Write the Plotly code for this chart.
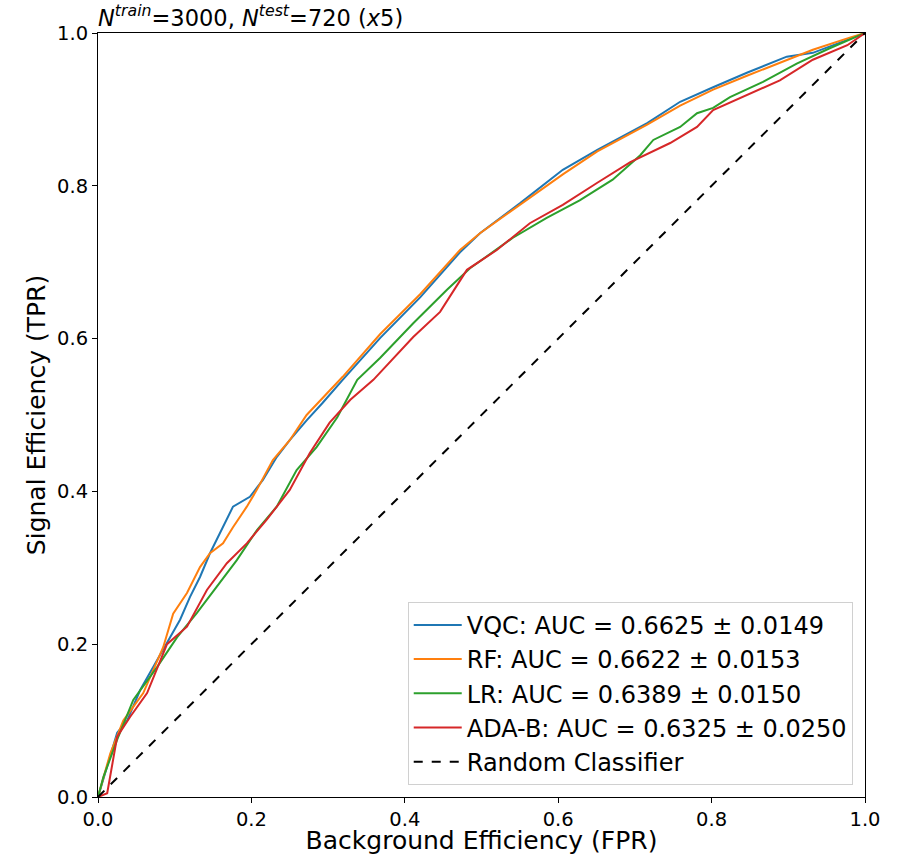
import plotly.graph_objects as go

# ROC curves (FPR, TPR)
vqc_fpr = [0.0, 0.016, 0.025, 0.038, 0.055, 0.077, 0.094, 0.107, 0.12, 0.133, 0.146, 0.159, 0.176, 0.198, 0.215,
           0.233, 0.25, 0.272, 0.293, 0.319, 0.368, 0.42, 0.472, 0.498, 0.55, 0.606, 0.651, 0.716, 0.759, 0.802,
           0.846, 0.898, 0.932, 0.977, 1.0]
vqc_tpr = [0.0, 0.052, 0.084, 0.1, 0.14, 0.179, 0.209, 0.232, 0.262, 0.288, 0.319, 0.345, 0.38, 0.393, 0.415,
           0.445, 0.467, 0.493, 0.516, 0.546, 0.601, 0.654, 0.713, 0.738, 0.777, 0.821, 0.847, 0.882, 0.91, 0.929,
           0.948, 0.969, 0.974, 0.991, 1.0]

rf_fpr = [0.0, 0.016, 0.033, 0.059, 0.085, 0.098, 0.116, 0.133, 0.146, 0.163, 0.176, 0.194, 0.207, 0.228, 0.25,
          0.272, 0.319, 0.368, 0.42, 0.472, 0.498, 0.55, 0.606, 0.651, 0.716, 0.759, 0.802, 0.846, 0.898, 0.932,
          0.977, 1.0]
rf_tpr = [0.0, 0.057, 0.1, 0.136, 0.196, 0.24, 0.267, 0.301, 0.319, 0.332, 0.353, 0.38, 0.402, 0.441, 0.467,
          0.5, 0.55, 0.606, 0.658, 0.716, 0.738, 0.775, 0.815, 0.845, 0.88, 0.905, 0.926, 0.944, 0.964, 0.978,
          0.993, 1.0]

lr_fpr = [0.0, 0.007, 0.025, 0.046, 0.077, 0.103, 0.129, 0.155, 0.181, 0.207, 0.233, 0.259, 0.285, 0.312, 0.338,
          0.368, 0.411, 0.455, 0.485, 0.541, 0.585, 0.628, 0.671, 0.707, 0.724, 0.759, 0.781, 0.802, 0.824, 0.867,
          0.911, 0.954, 1.0]
lr_tpr = [0.0, 0.026, 0.075, 0.127, 0.17, 0.209, 0.241, 0.275, 0.31, 0.349, 0.38, 0.428, 0.458, 0.497, 0.546,
          0.575, 0.62, 0.664, 0.692, 0.732, 0.758, 0.781, 0.808, 0.84, 0.86, 0.877, 0.895, 0.902, 0.916, 0.936,
          0.96, 0.98, 1.0]

ada_fpr = [0.0, 0.012, 0.025, 0.042, 0.064, 0.09, 0.116, 0.142, 0.168, 0.194, 0.22, 0.25, 0.276, 0.302, 0.329,
           0.359, 0.411, 0.446, 0.481, 0.52, 0.563, 0.606, 0.651, 0.694, 0.746, 0.781, 0.802, 0.846, 0.889, 0.932,
           0.977, 1.0]
ada_tpr = [0.0, 0.005, 0.079, 0.105, 0.136, 0.2, 0.223, 0.271, 0.306, 0.332, 0.363, 0.402, 0.45, 0.49, 0.52,
           0.546, 0.602, 0.635, 0.69, 0.716, 0.751, 0.775, 0.804, 0.831, 0.856, 0.877, 0.899, 0.919, 0.938, 0.965,
           0.984, 1.0]

names = ["VQC: AUC = 0.6625 ± 0.0149", "RF: AUC = 0.6622 ± 0.0153",
         "LR: AUC = 0.6389 ± 0.0150", "ADA-B: AUC = 0.6325 ± 0.0250"]
colors = ["#1f77b4", "#ff7f0e", "#2ca02c", "#d62728"]
ticks = [0.0, 0.2, 0.4, 0.6, 0.8, 1.0]

fig = go.Figure()
curves = [(vqc_fpr, vqc_tpr), (rf_fpr, rf_tpr), (lr_fpr, lr_tpr), (ada_fpr, ada_tpr)]
for (x, y), name, c in zip(curves, names, colors):
    fig.add_trace(go.Scatter(x=x, y=y, mode="lines", name=name, line=dict(color=c, width=2)))
fig.add_trace(go.Scatter(x=[0, 1], y=[0, 1], mode="lines", name="Random Classifier",
                         line=dict(color="black", width=2, dash="dash")))

axis = dict(range=[0, 1], tickvals=ticks, tickformat=".1f", ticks="outside", ticklen=5, tickwidth=1,
            tickcolor="black", showline=True, linecolor="black", linewidth=1, mirror=True,
            showgrid=False, zeroline=False, tickfont=dict(size=19.5, color="black"), automargin=False)

fig.update_xaxes(**axis, title=dict(text="Background Efficiency (FPR)", font=dict(size=25, color="black"), standoff=12))
fig.update_yaxes(**axis, title=dict(text="Signal Efficiency (TPR)", font=dict(size=25, color="black"), standoff=4))

fig.update_layout(
    width=905, height=855,
    margin=dict(l=98, r=40, t=33, b=58),
    plot_bgcolor="white", paper_bgcolor="white",
    font=dict(family="DejaVu Sans", color="black"),
    title=dict(text="<i>N</i><sup><i>train</i></sup>=3000, <i>N</i><sup><i>test</i></sup>=720 (<i>x</i>5)",
               x=98 / 905, xanchor="left", yref="container", y=1 - 10 / 855, yanchor="top",
               font=dict(size=22.5, color="black")),
    legend=dict(x=0.984, y=0.016, xanchor="right", yanchor="bottom", bgcolor="rgba(255,255,255,0.8)",
                bordercolor="#d0d0d0", borderwidth=1, font=dict(size=24, color="black"),
                tracegroupgap=0, itemwidth=48),
    showlegend=True,
)

fig.write_html("out.html", config={"displayModeBar": False},
               post_script="document.body.style.margin='0';")
